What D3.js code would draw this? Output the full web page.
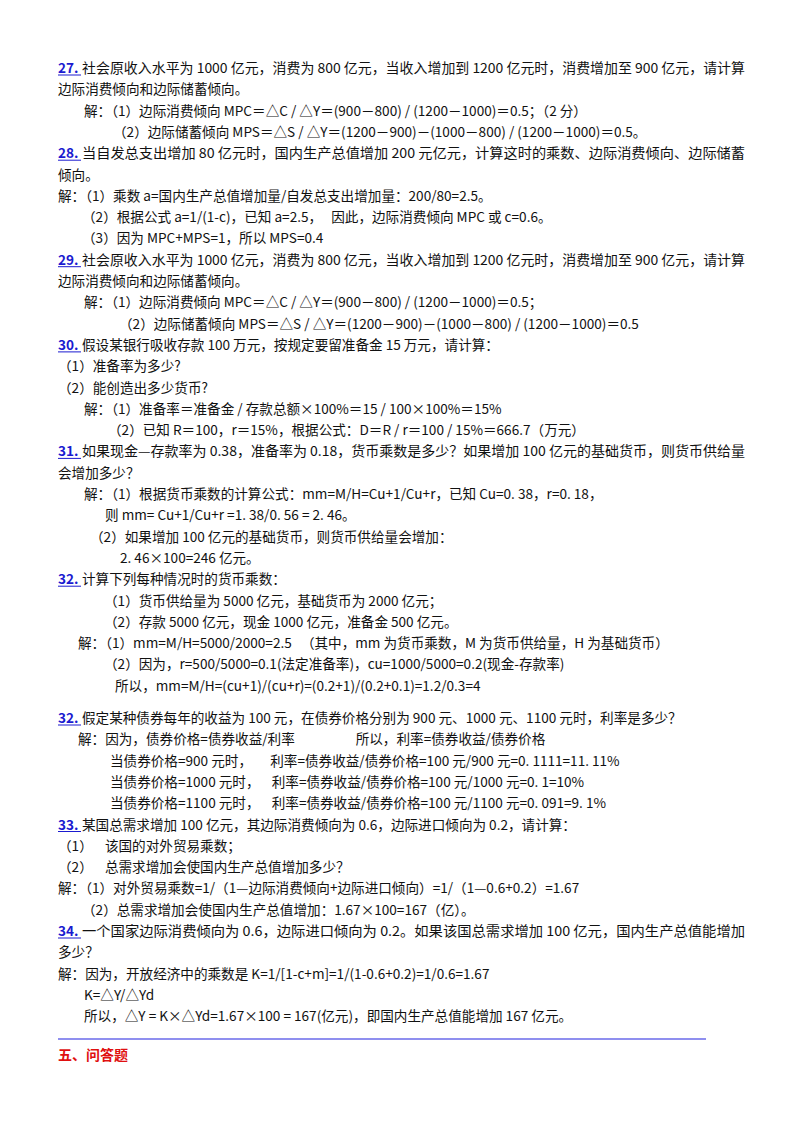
<!DOCTYPE html>
<html><head><meta charset="utf-8">
<script src="https://cdn.jsdelivr.net/npm/d3@7"></script>
<style>body{margin:0;background:#fff} text{white-space:pre}</style></head>
<body><svg id="c" width="800" height="1132"></svg>
<script>
const nums = ["27.","28.","29.","30.","31.","32.","32.","33.","34."];
const lines = [
 [0,"27.","社会原收入水平为 1000 亿元，消费为 800 亿元，当收入增加到 1200 亿元时，消费增加至 900 亿元，请计算",1],
 [0,"","边际消费倾向和边际储蓄倾向。"],
 [2,"","解：（1）边际消费倾向 MPC＝△C / △Y＝(900－800) / (1200－1000)＝0.5；（2 分）"],
 [4,"","（2）边际储蓄倾向 MPS＝△S / △Y＝(1200－900)－(1000－800) / (1200－1000)＝0.5。"],
 [0,"28.","当自发总支出增加 80 亿元时，国内生产总值增加 200 元亿元，计算这时的乘数、边际消费倾向、边际储蓄",1],
 [0,"","倾向。"],
 [0,"","解：（1）乘数 a=国内生产总值增加量/自发总支出增加量：200/80=2.5。"],
 [1,"","（2）根据公式 a=1/(1-c)，已知 a=2.5，   因此，边际消费倾向 MPC 或 c=0.6。"],
 [1,"","（3）因为 MPC+MPS=1，所以 MPS=0.4"],
 [0,"29.","社会原收入水平为 1000 亿元，消费为 800 亿元，当收入增加到 1200 亿元时，消费增加至 900 亿元，请计算",1],
 [0,"","边际消费倾向和边际储蓄倾向。"],
 [2,"","解：（1）边际消费倾向 MPC＝△C / △Y＝(900－800) / (1200－1000)＝0.5；"],
 [5,"","（2）边际储蓄倾向 MPS＝△S / △Y＝(1200－900)－(1000－800) / (1200－1000)＝0.5"],
 [0,"30.","假设某银行吸收存款 100 万元，按规定要留准备金 15 万元，请计算："],
 [0,"","（1）准备率为多少?"],
 [0,"","（2）能创造出多少货币?"],
 [2,"","解：（1）准备率＝准备金 / 存款总额×100%＝15 / 100×100%＝15%"],
 [3,"","（2）已知 R＝100，r＝15%，根据公式：D＝R / r＝100 / 15%＝666.7（万元）"],
 [0,"31.","如果现金—存款率为 0.38，准备率为 0.18，货币乘数是多少？如果增加 100 亿元的基础货币，则货币供给量",1],
 [0,"","会增加多少？"],
 [2,"","解：（1）根据货币乘数的计算公式：mm=M/H=Cu+1/Cu+r，已知 Cu=0. 38，r=0. 18，"],
 [6,"","则 mm= Cu+1/Cu+r =1. 38/0. 56 = 2. 46。"],
 [7,"","（2）如果增加 100 亿元的基础货币，则货币供给量会增加："],
 [8,"","2. 46×100=246 亿元。"],
 [0,"32.","计算下列每种情况时的货币乘数："],
 [9,"","（1）货币供给量为 5000 亿元，基础货币为 2000 亿元；"],
 [9,"","（2）存款 5000 亿元，现金 1000 亿元，准备金 500 亿元。"],
 [10,"","解：（1）mm=M/H=5000/2000=2.5   （其中，mm 为货币乘数，M 为货币供给量，H 为基础货币）"],
 [9,"","（2）因为，r=500/5000=0.1(法定准备率)，cu=1000/5000=0.2(现金-存款率)"],
 [11,"","所以，mm=M/H=(cu+1)/(cu+r)=(0.2+1)/(0.2+0.1)=1.2/0.3=4"],
 [-1,"",""],
 [0,"32.","假定某种债券每年的收益为 100 元，在债券价格分别为 900 元、1000 元、1100 元时，利率是多少？"],
 [10,"","解：因为，债券价格=债券收益/利率                    所以，利率=债券收益/债券价格"],
 [12,"","当债券价格=900 元时，      利率=债券收益/债券价格=100 元/900 元=0. 1111=11. 11%"],
 [12,"","当债券价格=1000 元时，    利率=债券收益/债券价格=100 元/1000 元=0. 1=10%"],
 [12,"","当债券价格=1100 元时，    利率=债券收益/债券价格=100 元/1100 元=0. 091=9. 1%"],
 [0,"33.","某国总需求增加 100 亿元，其边际消费倾向为 0.6，边际进口倾向为 0.2，请计算："],
 [0,"","（1）    该国的对外贸易乘数；"],
 [0,"","（2）    总需求增加会使国内生产总值增加多少？"],
 [0,"","解：（1）对外贸易乘数=1/（1—边际消费倾向+边际进口倾向）=1/（1—0.6+0.2）=1.67"],
 [1,"","（2）总需求增加会使国内生产总值增加：1.67×100=167（亿）。"],
 [0,"34.","一个国家边际消费倾向为 0.6，边际进口倾向为 0.2。如果该国总需求增加 100 亿元，国内生产总值能增加",1],
 [0,"","多少？"],
 [0,"","解：因为，开放经济中的乘数是 K=1/[1-c+m]=1/(1-0.6+0.2)=1/0.6=1.67"],
 [2,"","K=△Y/△Yd"],
 [2,"","所以，△Y = K×△Yd=1.67×100 = 167(亿元)，即国内生产总值能增加 167 亿元。"]
];
const indents = [58,82,84,108,113,119,105,90,120,104,78,115,110];
const svg = d3.select("#c");
const y = d3.scaleLinear().domain([0,1]).range([73,94.3]);
const g = svg.append("g").style("font-family","'Noto Sans CJK SC','Noto Sans',sans-serif").style("font-size","13.6px");
lines.forEach((l,i)=>{
  if(l[0]<0) return;
  const yy = i<30 ? y(i) : y(i)+ (718-y(31)+5);
  let x = indents[l[0]];
  if(l[1]){
    g.append("text").attr("x",x).attr("y",yy).text(l[1]).attr("fill","#1a1ad0").attr("font-weight","bold");
    g.append("line").attr("x1",x).attr("x2",x+23).attr("y1",yy+2).attr("y2",yy+2).attr("stroke","#1a1ad0").attr("stroke-width",1);
    x += 24;
  }
  const t = g.append("text").attr("x",x).attr("y",yy).attr("xml:space","preserve").text(l[2]).attr("fill","#111");
  if(l[3]) t.attr("textLength",745-x).attr("lengthAdjust","spacingAndGlyphs");
});
svg.append("line").attr("x1",58).attr("x2",706).attr("y1",1039).attr("y2",1039).attr("stroke","#2020e0").attr("stroke-width",1.2);
svg.append("text").attr("x",58).attr("y",1060).text("五、问答题").attr("fill","#e01010").attr("font-weight","bold")
  .style("font-family","'Noto Sans CJK SC',sans-serif").style("font-size","14px");
</script></body></html>
